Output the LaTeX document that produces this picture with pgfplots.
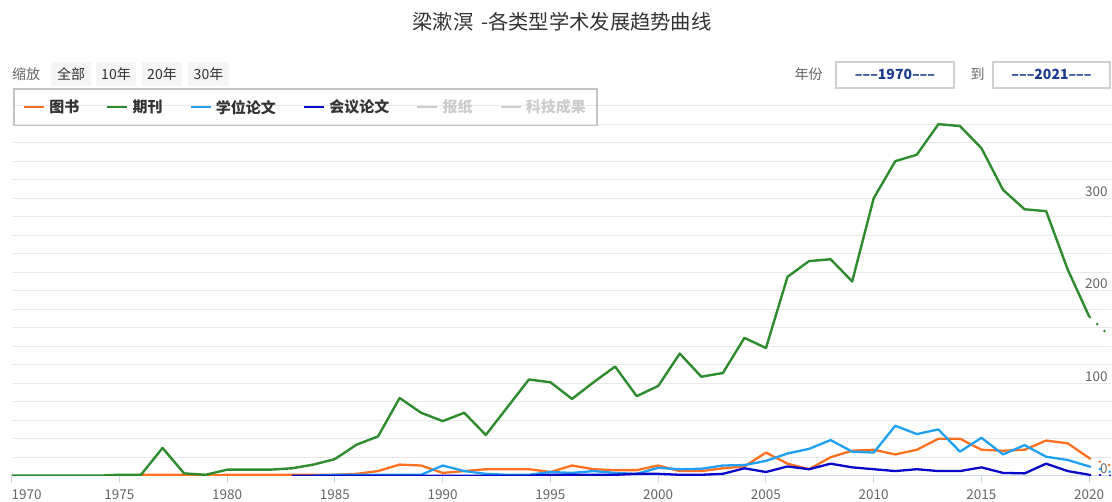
\documentclass[border=0pt]{standalone}
\usepackage{fontspec}
\setmainfont{Noto Sans CJK SC}
\usepackage{pgfplots}
\pgfplotsset{compat=1.18}
\definecolor{cOrange}{HTML}{FF7020}
\definecolor{cGreen}{HTML}{2E8B2E}
\definecolor{cLBlue}{HTML}{1FA0F5}
\definecolor{cDBlue}{HTML}{0808C8}
\definecolor{cHidden}{HTML}{CCCCCC}
\definecolor{cGrid}{HTML}{E8E8E8}
\definecolor{cAxis}{HTML}{CCD6EB}
\definecolor{cLabel}{HTML}{666666}
\definecolor{cTitle}{HTML}{333333}
\definecolor{cBtn}{HTML}{F5F5F5}
\definecolor{cBox}{HTML}{D0D0D0}
\definecolor{cInput}{HTML}{1A3C8F}
\definecolor{cLegBorder}{HTML}{C4C4C4}
\begin{document}
\begin{tikzpicture}[x=1bp,y=1bp]
\path[use as bounding box] (0,0) rectangle (1112,502);
\fill[white] (0,0) rectangle (1112,502);
% title
\node[text=cTitle, font=\fontsize{20.3bp}{22bp}\selectfont, inner sep=0pt] at (562,480) {梁漱溟 \,-各类型学术发展趋势曲线};
% zoom controls
\node[anchor=west, text=cLabel, font=\fontsize{14bp}{15bp}\selectfont, inner sep=0pt] at (12,428) {缩放};
\foreach \xa/\xb/\t in {51/91/全部, 96/136/10年, 142/182/20年, 188/229/30年}{
  \fill[cBtn] (\xa,416) rectangle (\xb,440);
  \node[text=cTitle, font=\fontsize{14bp}{15bp}\selectfont, inner sep=0pt] at ({(\xa+\xb)/2},428) {\t};
}
% year inputs
\node[text=cLabel, font=\fontsize{14bp}{15bp}\selectfont, inner sep=0pt] at (808.5,428) {年份};
\draw[cBox, line width=1.5bp] (836,414) rectangle (954,440);
\node[text=cInput, font=\bfseries\fontsize{14bp}{15bp}\selectfont, inner sep=0pt] at (895,428) {–––1970–––};
\node[text=cLabel, font=\fontsize{14bp}{15bp}\selectfont, inner sep=0pt] at (977.5,428) {到};
\draw[cBox, line width=1.5bp] (993,414) rectangle (1110,440);
\node[text=cInput, font=\bfseries\fontsize{14bp}{15bp}\selectfont, inner sep=0pt] at (1051.5,428) {–––2021–––};
\begin{axis}[
  at={(11.7bp,26.3bp)}, anchor=south west,
  scale only axis, width=1099.1bp, height=370bp,
  xmin=1970, xmax=2021, ymin=0, ymax=400,
  axis x line*=bottom, axis y line*=right,
  x axis line style={cAxis, line width=1bp, -},
  y axis line style={draw=none},
  xtick={1970,1975,...,2020},
  xticklabels={\makebox[0pt][l]{1970},1975,1980,1985,1990,1995,2000,2005,2010,2015,2020},
  ytick={0,100,200,300},
  yticklabels={0,100,200,300},
  minor ytick={20,40,...,400},
  ymajorgrids, yminorgrids,
  major grid style={cGrid, line width=1bp},
  minor grid style={cGrid, line width=1bp},
  tick align=outside, major tick length=7bp, minor tick length=0bp,
  xtick style={cAxis, line width=1bp},
  ytick style={draw=none},
  /pgf/number format/assume math mode=true,
  ticklabel style={font=\fontsize{13.5bp}{14bp}\selectfont, text=cLabel},
  xticklabel style={yshift=-3bp},
  yticklabel style={anchor=south east, inner sep=0pt, xshift=-10bp, yshift=1.5bp},
  clip=true,
  legend style={
    at={(axis description cs:0.0012,1.0478)}, anchor=north west,
    draw=cLegBorder, line width=1.8bp, fill=none,
    inner xsep=9bp, inner ysep=9bp,
    legend columns=6,
    font=\bfseries\fontsize{15bp}{15bp}\selectfont,
    text=cTitle,
    /tikz/every odd column/.style={column sep=2bp},
    /tikz/every even column/.style={column sep=24.8bp},
    cells={anchor=west},
  },
  legend image code/.code={\draw[#1,line width=2.5bp] (0bp,0bp) -- (20bp,0bp);},
]
% 图书
\addplot[cOrange, line width=2.3bp, line join=round, mark=none] coordinates {
(1976,1)(1977,1)(1978,1)(1979,0)(1980,1)(1981,1)(1982,1)(1983,1)(1984,1)(1985,1)(1986,2)(1987,5)(1988,12)(1989,11)(1990,3)(1991,5)(1992,7)(1993,7)(1994,7)(1995,4)(1996,11)(1997,7)(1998,6)(1999,6)(2000,11)(2001,5)(2002,5)(2003,8)(2004,10)(2005,25)(2006,13)(2007,7)(2008,20)(2009,27)(2010,28)(2011,23)(2012,28)(2013,40)(2014,40)(2015,28)(2016,27)(2017,28)(2018,38)(2019,35)(2020,19)};
\addlegendentry{图书}
% 期刊
\addplot[cGreen, line width=2.4bp, line join=round, mark=none] coordinates {
(1970,0)(1971,0)(1972,0)(1973,0)(1974,0)(1975,1)(1976,1)(1977,30)(1978,2.5)(1979,1)(1980,6.5)(1981,6.5)(1982,6.5)(1983,8)(1984,12)(1985,18)(1986,33.5)(1987,42.5)(1988,84)(1989,68)(1990,59)(1991,68)(1992,44)(1993,74)(1994,104)(1995,101)(1996,83)(1997,101)(1998,118)(1999,86)(2000,97)(2001,132)(2002,107)(2003,111)(2004,149)(2005,138)(2006,215)(2007,232)(2008,234)(2009,210)(2010,300)(2011,340)(2012,347)(2013,380)(2014,378)(2015,354)(2016,309)(2017,288)(2018,286)(2019,223)(2020,172)};
\addlegendentry{期刊}
% 学位论文
\addplot[cLBlue, line width=2.3bp, line join=round, mark=none] coordinates {
(1984,0)(1985,1)(1986,1)(1987,1)(1988,1)(1989,1)(1990,11)(1991,5)(1992,2)(1993,1)(1994,1)(1995,4)(1996,3)(1997,5)(1998,3)(1999,2)(2000,8.5)(2001,7)(2002,7.5)(2003,11)(2004,11.5)(2005,16)(2006,24)(2007,29)(2008,38.5)(2009,26)(2010,25)(2011,54)(2012,45)(2013,50)(2014,26)(2015,41)(2016,23)(2017,33)(2018,20.5)(2019,17)(2020,10)};
\addlegendentry{学位论文}
% 会议论文
\addplot[cDBlue, line width=2.3bp, line join=round, mark=none] coordinates {
(1983,0)(1984,0)(1985,0)(1986,0)(1987,0)(1988,0)(1989,0)(1990,0)(1991,0)(1992,0)(1993,0)(1994,0)(1995,1)(1996,1)(1997,1)(1998,1)(1999,2)(2000,2)(2001,1)(2002,1)(2003,2)(2004,8)(2005,4)(2006,10)(2007,7)(2008,13)(2009,9)(2010,7)(2011,5)(2012,7)(2013,5)(2014,5)(2015,9)(2016,3)(2017,2.5)(2018,13)(2019,5)(2020,1)};
\addlegendentry{会议论文}
\addlegendimage{cHidden}
\addlegendentry{\textcolor{cHidden}{报纸}}
\addlegendimage{cHidden}
\addlegendentry{\textcolor{cHidden}{科技成果}}
% incomplete year 2021 (dotted)
\addplot[cOrange, line width=2bp, dash pattern=on 2bp off 8bp, forget plot] coordinates {(2020,19)(2021,11)};
\addplot[cGreen, line width=2bp, dash pattern=on 2bp off 8bp, forget plot] coordinates {(2020,172)(2021,150)};
\addplot[cLBlue, line width=2bp, dash pattern=on 2bp off 8bp, forget plot] coordinates {(2020,10)(2021,4)};
\addplot[cDBlue, line width=2bp, dash pattern=on 2bp off 8bp, forget plot] coordinates {(2020,1)(2021,0)};
\end{axis}
\end{tikzpicture}
\end{document}
